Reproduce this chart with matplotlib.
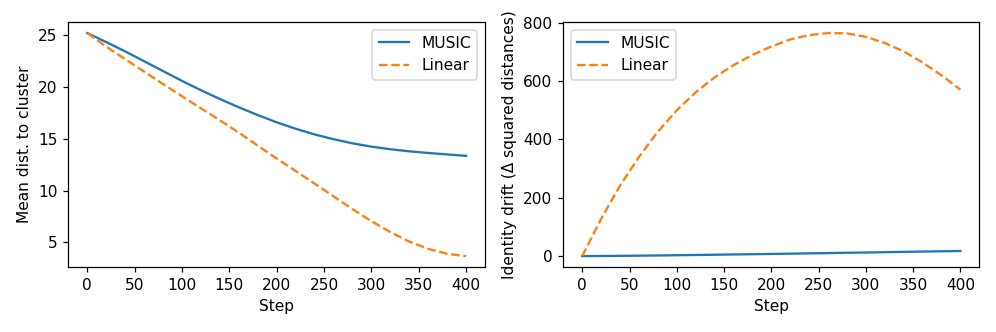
import matplotlib
matplotlib.use("Agg")
import matplotlib.pyplot as plt

steps = [0, 20, 40, 60, 80, 100, 120, 140, 160, 180, 200,
         220, 240, 260, 280, 300, 320, 340, 360, 380, 400]

music_dist = [25.22, 24.35, 23.45, 22.5, 21.55, 20.6, 19.7, 18.85, 18.05, 17.3, 16.6,
              15.98, 15.43, 14.97, 14.57, 14.25, 14.0, 13.8, 13.64, 13.5, 13.36]
linear_dist = [25.22, 23.92, 22.7, 21.5, 20.3, 19.12, 17.95, 16.8, 15.6, 14.35, 13.1,
               11.9, 10.68, 9.45, 8.22, 7.05, 6.0, 5.08, 4.38, 3.9, 3.68]

music_drift = [0, 0.4, 0.9, 1.5, 2.2, 3.0, 3.8, 4.7, 5.6, 6.5, 7.4,
               8.4, 9.4, 10.4, 11.4, 12.4, 13.4, 14.5, 15.6, 16.6, 17.5]
linear_drift = [0, 128, 242, 340, 427, 500, 562, 613, 655, 690, 719,
                743, 758, 765, 764, 752, 731, 702, 664, 620, 571]

xticks = [0, 50, 100, 150, 200, 250, 300, 350, 400]

fig = plt.figure(figsize=(9, 3), dpi=110.67)
ax1 = fig.add_axes([0.0686, 0.195, 0.4184, 0.739])
ax2 = fig.add_axes([0.5656, 0.195, 0.4176, 0.739])

ax1.plot(steps, music_dist, label="MUSIC")
ax1.plot(steps, linear_dist, "--", label="Linear")
ax1.set_xlabel("Step")
ax1.set_ylabel("Mean dist. to cluster")
ax1.set_xticks(xticks)
ax1.legend(loc="upper right")

ax2.plot(steps, music_drift, label="MUSIC")
ax2.plot(steps, linear_drift, "--", label="Linear")
ax2.set_xlabel("Step")
ax2.set_ylabel("Identity drift (Δ squared distances)")
ax2.set_xticks(xticks)
ax2.legend(loc="upper left")

fig.savefig("out.png", dpi=110.67)
